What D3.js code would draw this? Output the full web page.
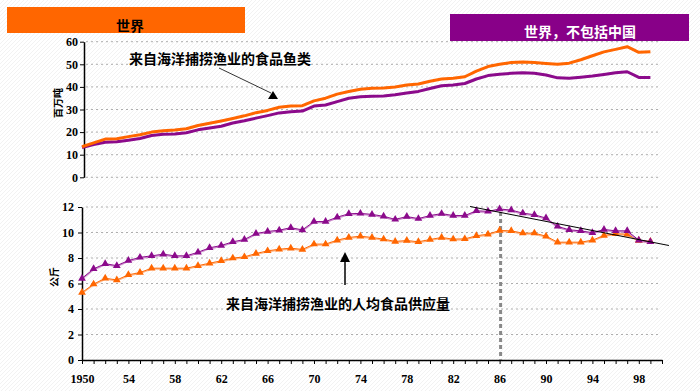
<!DOCTYPE html>
<html>
<head>
<meta charset="utf-8">
<script src="https://cdn.jsdelivr.net/npm/d3@7"></script>
<style>
  body { margin: 0; background: #fff; }
  svg { display: block; }
  .num { font-family: "Liberation Serif", "DejaVu Serif", serif; font-weight: bold; }
</style>
</head>
<body>
<svg id="chart" width="700" height="391"></svg>
<script>
// years 1950..1999
var years = d3.range(1950, 2000)

// top panel: food fish from marine capture, million tonnes
var worldTotal = [13.5, 15.2, 16.9, 17.1, 18.0, 18.8, 20.0, 20.6, 20.9, 21.5,
  22.9, 23.9, 24.9, 26.0, 27.2, 28.6, 29.6, 31.0, 31.5, 31.7,
  33.8, 35.0, 36.8, 38.0, 39.0, 39.4, 39.5, 40.0, 40.8, 41.3,
  42.5, 43.5, 43.8, 44.5, 47.0, 49.0, 50.0, 50.8, 51.0, 50.8,
  50.4, 50.0, 50.5, 52.0, 53.8, 55.5, 56.6, 57.8, 55.3, 55.6]
var exChinaTotal = [13.2, 14.5, 15.5, 15.7, 16.4, 17.2, 18.5, 19.0, 19.2, 19.7,
  21.0, 21.8, 22.6, 24.0, 25.0, 26.2, 27.3, 28.5, 29.0, 29.3,
  31.5, 32.0, 33.5, 35.0, 35.6, 35.9, 36.0, 36.5, 37.3, 38.0,
  39.3, 40.5, 40.8, 41.5, 43.5, 45.0, 45.6, 46.0, 46.3, 46.0,
  45.3, 44.0, 43.8, 44.3, 44.8, 45.5, 46.3, 46.7, 44.2, 44.2]

// bottom panel: per capita supply, kg
var worldPerCap = [5.29, 5.95, 6.41, 6.28, 6.68, 6.86, 7.2, 7.2, 7.2, 7.2,
  7.4, 7.59, 7.78, 7.99, 8.09, 8.35, 8.56, 8.69, 8.77, 8.67,
  9.09, 9.09, 9.4, 9.61, 9.71, 9.61, 9.48, 9.3, 9.37, 9.27,
  9.45, 9.61, 9.48, 9.5, 9.74, 9.87, 10.16, 10.13, 9.95, 9.95,
  9.71, 9.24, 9.24, 9.24, 9.4, 9.77, 9.9, 9.87, 9.37, 9.3]
var exChinaPerCap = [6.4, 7.15, 7.55, 7.4, 7.8, 8.05, 8.17, 8.3, 8.17, 8.17,
  8.45, 8.8, 8.98, 9.27, 9.45, 9.92, 10.08, 10.18, 10.38, 10.2,
  10.86, 10.86, 11.2, 11.47, 11.5, 11.42, 11.27, 11.03, 11.25, 11.09,
  11.33, 11.48, 11.33, 11.33, 11.7, 11.66, 11.84, 11.76, 11.52, 11.39,
  11.13, 10.48, 10.21, 10.13, 9.98, 10.24, 10.13, 10.13, 9.4, 9.27]

var topTicks = [0, 10, 20, 30, 40, 50, 60]
var bottomTicks = [0, 2, 4, 6, 8, 10, 12]
var yearLabels = [1950, 1954, 1958, 1962, 1966, 1970, 1974, 1978, 1982, 1986, 1990, 1994, 1998]
var trendEnds = [[1983.45, 12.04], [2000.6, 8.98]]
var peakYear = 1986

var orange = '#ff6600'
var purple = '#8b0a8b'
var cjkFont = '"Noto Sans CJK SC", sans-serif'

var svg = d3.select('#chart')

// faint diagonal texture of the slide background
var defs = svg.append('defs')
var pat = defs.append('pattern')
  .attr('id', 'bg')
  .attr('width', 4).attr('height', 4)
  .attr('patternUnits', 'userSpaceOnUse')
pat.append('path').attr('d', 'M0,4 L4,0').attr('stroke', '#ececec').attr('stroke-width', 0.7)
svg.append('rect').attr('width', 700).attr('height', 391).attr('fill', 'url(#bg)')

var xScale = d3.scaleLinear().domain([1950, 2000]).range([82, 662])
var yTop = d3.scaleLinear().domain([0, 60]).range([177.3, 41.7])
var yBot = d3.scaleLinear().domain([0, 12]).range([360, 207])

// header boxes
svg.append('rect').attr('x', 7).attr('y', 7).attr('width', 238).attr('height', 26).attr('fill', orange)
svg.append('text').attr('x', 130).attr('y', 31)
  .attr('text-anchor', 'middle').attr('font-family', cjkFont).attr('font-weight', 'bold')
  .attr('font-size', 14).attr('fill', '#000').text('世界')

svg.append('rect').attr('x', 450).attr('y', 14).attr('width', 239).attr('height', 27).attr('fill', '#880088')
svg.append('text').attr('x', 580).attr('y', 37)
  .attr('text-anchor', 'middle').attr('font-family', cjkFont).attr('font-weight', 'bold')
  .attr('font-size', 14).attr('fill', '#fff').text('世界，不包括中国')

// gridlines
function grid(yScale, ticks, skipZero) {
  svg.append('g').selectAll('line')
    .data(ticks.filter(function (t) { return !(skipZero && t === 0) }))
    .join('line')
    .attr('x1', 86).attr('x2', 661)
    .attr('y1', function (d) { return yScale(d) }).attr('y2', function (d) { return yScale(d) })
    .attr('stroke', '#999').attr('stroke-width', 0.8).attr('stroke-dasharray', '2,3')
}
grid(yTop, topTicks, false)
grid(yBot, bottomTicks, true)

// y axes
var yAxisTop = d3.axisLeft(yTop).tickValues(topTicks).tickSize(4).tickSizeOuter(0)
var gTop = svg.append('g').attr('transform', 'translate(84,0)').call(yAxisTop)
var yAxisBot = d3.axisLeft(yBot).tickValues(bottomTicks).tickSize(4).tickSizeOuter(0)
var gBot = svg.append('g').attr('transform', 'translate(82,0)').call(yAxisBot)

// x axis (bottom panel)
var xAxis = d3.axisBottom(xScale).tickValues(d3.range(1950, 2001)).tickSize(4).tickSizeOuter(0)
  .tickFormat(function (d) {
    if (yearLabels.indexOf(d) < 0) return ''
    return d === 1950 ? '1950' : String(d % 100)
  })
var gx = svg.append('g').attr('transform', 'translate(0,360)').call(xAxis)
gx.selectAll('text').attr('dy', 0).attr('y', 23)

;[gTop, gBot, gx].forEach(function (g) {
  g.attr('font-family', null)
  g.select('.domain').attr('stroke', '#000').attr('stroke-width', 1.5)
  g.selectAll('.tick line').attr('stroke', '#000')
  g.selectAll('text').attr('class', 'num')
    .attr('font-size', 12).attr('fill', '#000')
})
gTop.selectAll('text').attr('x', -6)
gBot.selectAll('text').attr('x', -8)

// axis titles
svg.append('text').attr('transform', 'translate(62,103) rotate(-90)')
  .attr('text-anchor', 'middle').attr('font-family', cjkFont).attr('font-weight', 'bold')
  .attr('font-size', 10).text('百万吨')
svg.append('text').attr('transform', 'translate(58,277) rotate(-90)')
  .attr('text-anchor', 'middle').attr('font-family', cjkFont).attr('font-weight', 'bold')
  .attr('font-size', 10).text('公斤')

// top lines
function drawLine(values, yScale, color, width) {
  var line = d3.line()
    .x(function (d, i) { return xScale(years[i]) })
    .y(function (d) { return yScale(d) })
  svg.append('path').datum(values)
    .attr('d', line).attr('fill', 'none')
    .attr('stroke', color).attr('stroke-width', width)
    .attr('stroke-linejoin', 'round')
}
drawLine(exChinaTotal, yTop, purple, 3)
drawLine(worldTotal, yTop, orange, 3)

// bottom lines with triangle markers
var tri = d3.symbol().type(d3.symbolTriangle).size(26)
function drawMarked(values, color, shade) {
  var line = d3.line()
    .x(function (d, i) { return xScale(years[i]) })
    .y(function (d) { return yBot(d) })
  svg.append('path').datum(values)
    .attr('d', line).attr('fill', 'none')
    .attr('stroke', shade).attr('stroke-width', 1.2)
    .attr('transform', 'translate(0,1)')
  svg.append('path').datum(values)
    .attr('d', line).attr('fill', 'none')
    .attr('stroke', color).attr('stroke-width', 1)
  svg.append('g').selectAll('path')
    .data(values).join('path')
    .attr('d', tri)
    .attr('transform', function (d, i) { return 'translate(' + xScale(years[i]) + ',' + yBot(d) + ')' })
    .attr('fill', color)
}

// peak year marker
svg.append('line')
  .attr('x1', xScale(peakYear) + 1).attr('x2', xScale(peakYear) + 1)
  .attr('y1', 212).attr('y2', 360)
  .attr('stroke', '#888').attr('stroke-width', 3).attr('stroke-dasharray', '4,3')

drawMarked(worldPerCap, orange, '#ffb380')
drawMarked(exChinaPerCap, purple, '#cc88cc')

// declining trend
svg.append('line')
  .attr('x1', xScale(trendEnds[0][0])).attr('y1', yBot(trendEnds[0][1]))
  .attr('x2', xScale(trendEnds[1][0])).attr('y2', yBot(trendEnds[1][1]))
  .attr('stroke', '#000').attr('stroke-width', 1)

// annotations
svg.append('text').attr('x', 129).attr('y', 64)
  .attr('font-family', cjkFont).attr('font-weight', 'bold').attr('font-size', 14)
  .text('来自海洋捕捞渔业的食品鱼类')
svg.append('line').attr('x1', 219).attr('y1', 68).attr('x2', 271).attr('y2', 93)
  .attr('stroke', '#000').attr('stroke-width', 0.8)
svg.append('path').attr('d', 'M273,91 L278,99 L268,99 Z').attr('fill', '#000')

svg.append('text').attr('x', 226).attr('y', 309)
  .attr('font-family', cjkFont).attr('font-weight', 'bold').attr('font-size', 14)
  .text('来自海洋捕捞渔业的人均食品供应量')
svg.append('line').attr('x1', 345).attr('y1', 285).attr('x2', 345).attr('y2', 260)
  .attr('stroke', '#000').attr('stroke-width', 1.5)
svg.append('path').attr('d', 'M345,252 L350,262 L340,262 Z').attr('fill', '#000')
</script>
</body>
</html>
